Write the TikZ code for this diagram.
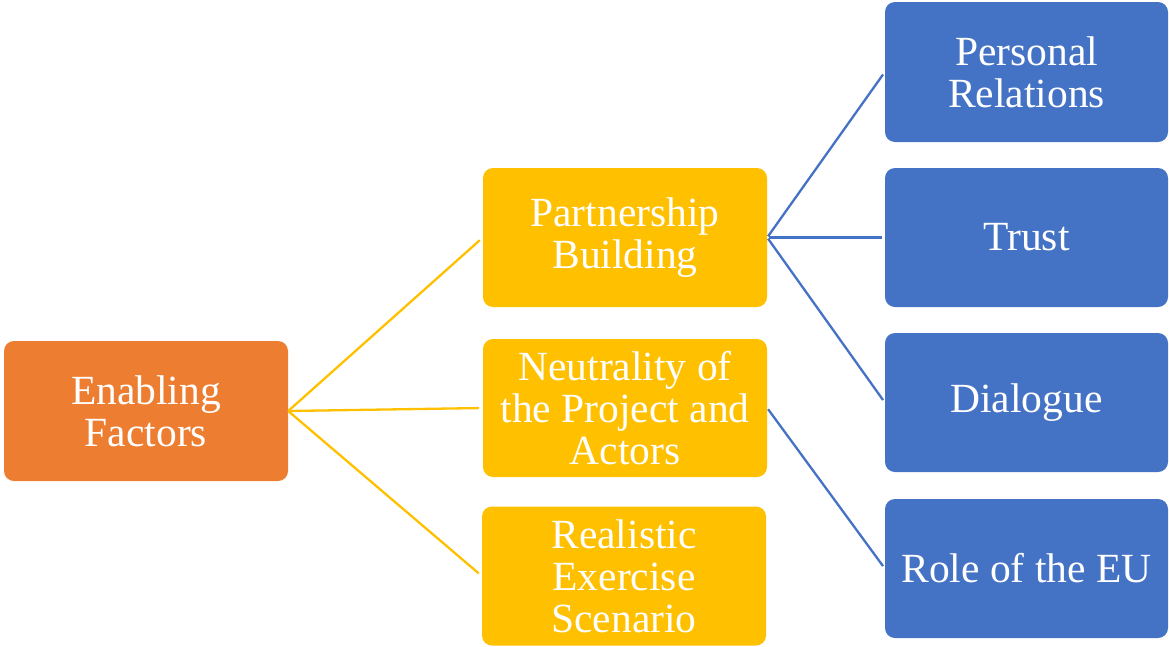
\documentclass[tikz,border=0pt]{standalone}
\usepackage{fontspec}
\setmainfont{Liberation Serif}
\definecolor{orangebox}{HTML}{ED7D31}
\definecolor{yellowbox}{HTML}{FFC000}
\definecolor{bluebox}{HTML}{4472C4}
\begin{document}
\begin{tikzpicture}[x=1pt,y=-1pt,
  box/.style={rectangle, rounded corners=10pt, text=white, align=center,
    minimum width=284pt, minimum height=139pt, inner sep=0pt,
    font=\fontsize{41.5}{42}\selectfont},
  rootbox/.style={box, fill=orangebox, minimum height=140pt},
  midbox/.style={box, fill=yellowbox},
  leafbox/.style={box, fill=bluebox, minimum width=283pt},
  ylink/.style={draw=yellowbox, line width=2.3pt, shorten >=4pt},
  blink/.style={draw=bluebox, line width=2.3pt, shorten <=1.5pt, shorten >=3pt}]
\useasboundingbox (0,0) rectangle (1169,646);

% root
\node[rootbox] (ef) at (146,411) {Enabling\\Factors};

% second level
\node[midbox] (pb) at (625,237.5) {Partnership\\Building};
\node[midbox, minimum height=138pt] (ne) at (625,408) {Neutrality of\\the Project and\\Actors};
\node[midbox] (re) at (624,576) {Realistic\\Exercise\\Scenario};

% third level
\node[leafbox, minimum height=140pt] (pr) at (1026.5,72) {Personal\\Relations};
\node[leafbox] (tr) at (1026.5,237.5) {Trust};
\node[leafbox] (di) at (1026.5,402.5) {Dialogue};
\node[leafbox] (eu) at (1026.5,568.5) {Role of the EU};

% connectors
\draw[ylink] (ef.east) -- (pb.west);
\draw[ylink] (ef.east) -- (ne.west);
\draw[ylink] (ef.east) -- (re.west);
\draw[blink] (pb.east) -- (pr.west);
\draw[blink] (pb.east) -- (tr.west);
\draw[blink] (pb.east) -- (di.west);
\draw[blink] (ne.east) -- (eu.west);
\end{tikzpicture}
\end{document}
